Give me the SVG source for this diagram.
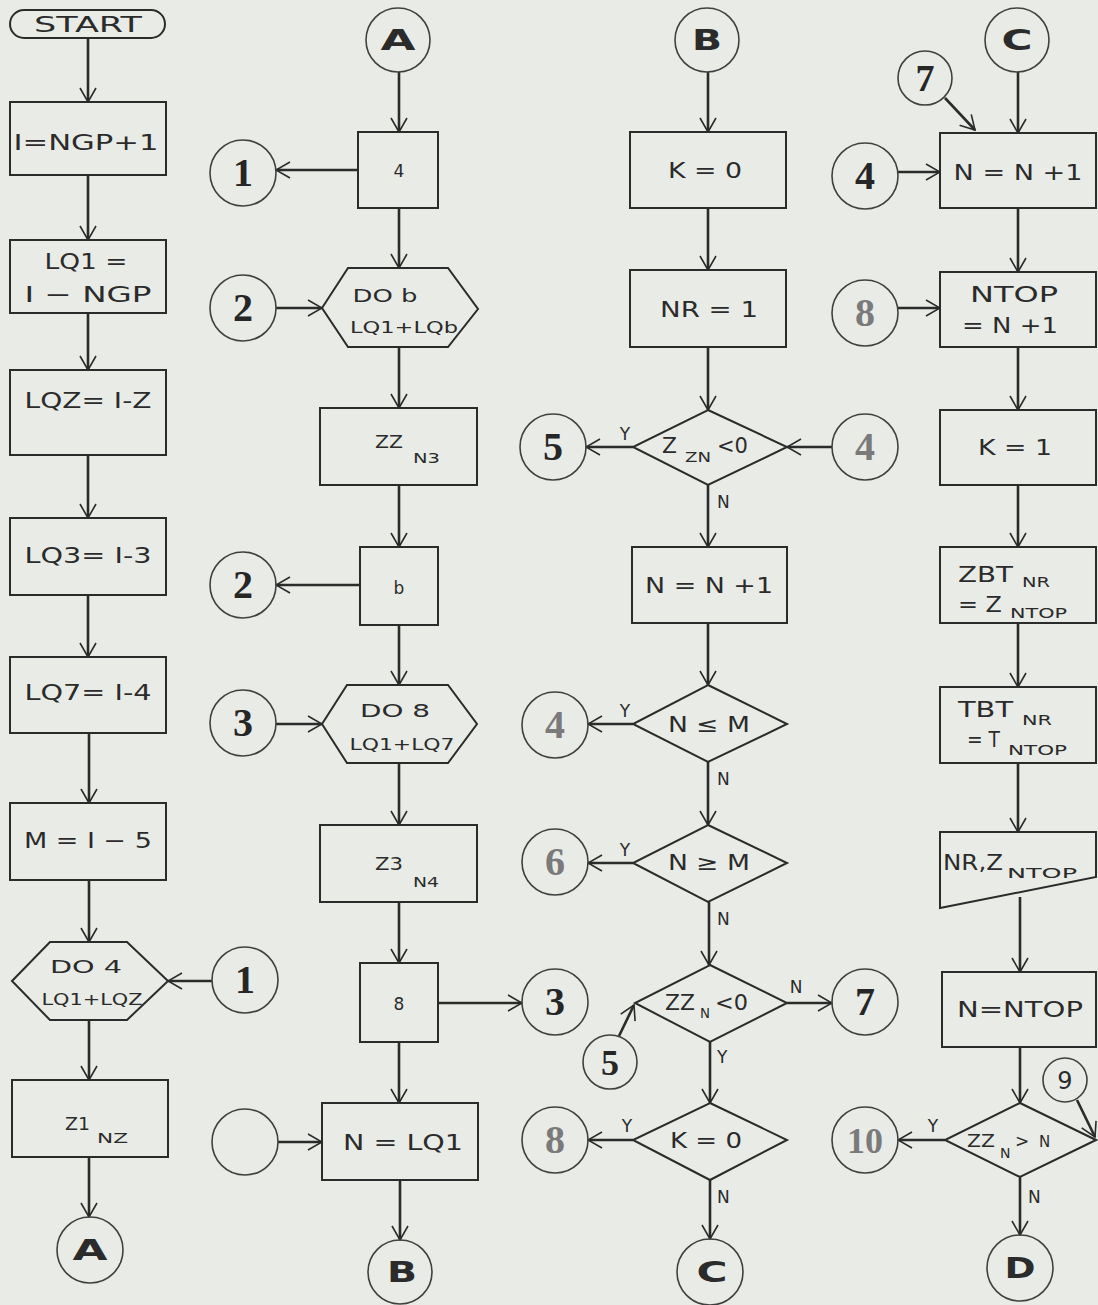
<svg xmlns="http://www.w3.org/2000/svg" width="1098" height="1305" viewBox="0 0 1098 1305">
  <defs>
    <marker id="ah" viewBox="0 0 16 18" refX="15" refY="9" markerWidth="16" markerHeight="18" markerUnits="userSpaceOnUse" orient="auto">
      <path d="M1,1 L15,9 L1,17" fill="none" stroke="#2b2b2b" stroke-width="1.6"/>
    </marker>
    <style>
      .shape { fill: none; stroke: #2b2b2b; stroke-width: 2; }
      .conn { fill: none; stroke: #404040; stroke-width: 1.6; }
      .flow { fill: none; stroke: #2b2b2b; stroke-width: 2.6; marker-end: url(#ah); }
      .lbl { font-family: "DejaVu Sans", sans-serif; font-size: 21px; fill: #2b2b2b; }
      .md { font-size: 17px; }
      .sm { font-size: 15px; }
      .sub { font-size: 14px; }
      .yn { font-family: "DejaVu Sans", sans-serif; font-size: 17px; fill: #2b2b2b; }
      .num { font-family: "Liberation Serif", serif; font-weight: bold; font-size: 40px; fill: #262626; text-anchor: middle; }
      .fade { fill: #7a7a7a; }
      .let { font-family: "DejaVu Sans", sans-serif; font-weight: bold; font-size: 28px; fill: #2b2b2b; text-anchor: middle; }
      .mid { text-anchor: middle; }
    </style>
  </defs>

  <rect width="1098" height="1305" fill="#e9ebe6"/>

  <!-- ===== connectors ===== -->
  <g id="connectors">
    <!-- column 1 -->
    <line class="flow" x1="88" y1="38" x2="88" y2="102"/>
    <line class="flow" x1="88" y1="175" x2="88" y2="240"/>
    <line class="flow" x1="88" y1="313" x2="88" y2="370"/>
    <line class="flow" x1="88" y1="455" x2="88" y2="518"/>
    <line class="flow" x1="88" y1="595" x2="88" y2="657"/>
    <line class="flow" x1="89" y1="733" x2="89" y2="803"/>
    <line class="flow" x1="89" y1="880" x2="89" y2="942"/>
    <line class="flow" x1="89" y1="1020" x2="89" y2="1080"/>
    <line class="flow" x1="89" y1="1157" x2="89" y2="1217"/>
    <line class="flow" x1="212" y1="981" x2="168" y2="981"/>

    <!-- column 2 -->
    <line class="flow" x1="399" y1="72" x2="399" y2="132"/>
    <line class="flow" x1="358" y1="170" x2="276" y2="170"/>
    <line class="flow" x1="399" y1="208" x2="399" y2="268"/>
    <line class="flow" x1="276" y1="308" x2="322" y2="308"/>
    <line class="flow" x1="399" y1="347" x2="399" y2="408"/>
    <line class="flow" x1="399" y1="485" x2="399" y2="547"/>
    <line class="flow" x1="360" y1="585" x2="276" y2="585"/>
    <line class="flow" x1="399" y1="625" x2="399" y2="685"/>
    <line class="flow" x1="276" y1="724" x2="322" y2="724"/>
    <line class="flow" x1="399" y1="763" x2="399" y2="825"/>
    <line class="flow" x1="399" y1="902" x2="399" y2="963"/>
    <line class="flow" x1="438" y1="1003" x2="522" y2="1003"/>
    <line class="flow" x1="399" y1="1042" x2="399" y2="1103"/>
    <line class="flow" x1="278" y1="1142" x2="322" y2="1142"/>
    <line class="flow" x1="400" y1="1180" x2="400" y2="1240"/>

    <!-- column 3 -->
    <line class="flow" x1="708" y1="72" x2="708" y2="132"/>
    <line class="flow" x1="708" y1="208" x2="708" y2="270"/>
    <line class="flow" x1="708" y1="347" x2="708" y2="410"/>
    <line class="flow" x1="633" y1="447" x2="586" y2="447"/>
    <line class="flow" x1="832" y1="447" x2="787" y2="447"/>
    <line class="flow" x1="708" y1="485" x2="708" y2="547"/>
    <line class="flow" x1="708" y1="623" x2="708" y2="685"/>
    <line class="flow" x1="633" y1="724" x2="588" y2="724"/>
    <line class="flow" x1="708" y1="762" x2="708" y2="825"/>
    <line class="flow" x1="633" y1="863" x2="588" y2="863"/>
    <line class="flow" x1="709" y1="902" x2="709" y2="965"/>
    <line class="flow" x1="787" y1="1003" x2="832" y2="1003"/>
    <line class="flow" x1="619" y1="1036" x2="634" y2="1005"/>
    <line class="flow" x1="710" y1="1042" x2="710" y2="1103"/>
    <line class="flow" x1="633" y1="1140" x2="588" y2="1140"/>
    <line class="flow" x1="710" y1="1180" x2="710" y2="1239"/>

    <!-- column 4 -->
    <line class="flow" x1="1018" y1="72" x2="1018" y2="133"/>
    <line class="flow" x1="945" y1="98" x2="975" y2="130"/>
    <line class="flow" x1="898" y1="172" x2="940" y2="172"/>
    <line class="flow" x1="1018" y1="208" x2="1018" y2="272"/>
    <line class="flow" x1="898" y1="308" x2="940" y2="308"/>
    <line class="flow" x1="1018" y1="347" x2="1018" y2="410"/>
    <line class="flow" x1="1018" y1="485" x2="1018" y2="547"/>
    <line class="flow" x1="1018" y1="623" x2="1018" y2="687"/>
    <line class="flow" x1="1018" y1="763" x2="1018" y2="832"/>
    <line class="flow" x1="1020" y1="897" x2="1020" y2="972"/>
    <line class="flow" x1="1020" y1="1047" x2="1020" y2="1103"/>
    <line class="flow" x1="945" y1="1140" x2="898" y2="1140"/>
    <line class="flow" x1="1077" y1="1100" x2="1095" y2="1137"/>
    <line class="flow" x1="1020" y1="1177" x2="1020" y2="1235"/>

    <!-- branch labels -->
    <text class="yn mid" x="625" y="440">Y</text>
    <text class="yn" x="717" y="508">N</text>
    <text class="yn mid" x="625" y="717">Y</text>
    <text class="yn" x="717" y="785">N</text>
    <text class="yn mid" x="625" y="856">Y</text>
    <text class="yn" x="717" y="925">N</text>
    <text class="yn mid" x="796" y="993">N</text>
    <text class="yn" x="717" y="1063">Y</text>
    <text class="yn mid" x="627" y="1132">Y</text>
    <text class="yn" x="717" y="1203">N</text>
    <text class="yn mid" x="933" y="1132">Y</text>
    <text class="yn" x="1028" y="1203">N</text>
  </g>

  <!-- ===== column 1 ===== -->
  <g id="start">
    <rect class="shape" x="10" y="10" width="155" height="28" rx="14"/>
    <text class="lbl mid" x="88" y="32" textLength="108" lengthAdjust="spacingAndGlyphs">START</text>
  </g>
  <g id="i-ngp">
    <rect class="shape" x="10" y="102" width="156" height="73"/>
    <text class="lbl mid" x="86" y="150" textLength="145" lengthAdjust="spacingAndGlyphs">I=NGP+1</text>
  </g>
  <g id="lq1">
    <rect class="shape" x="10" y="240" width="156" height="73"/>
    <text class="lbl mid" x="86" y="269" textLength="83" lengthAdjust="spacingAndGlyphs">LQ1 =</text>
    <text class="lbl mid" x="88" y="302" textLength="127" lengthAdjust="spacingAndGlyphs">I − NGP</text>
  </g>
  <g id="lq2">
    <rect class="shape" x="10" y="370" width="156" height="85"/>
    <text class="lbl mid" x="88" y="408" textLength="127" lengthAdjust="spacingAndGlyphs">LQZ= I-Z</text>
  </g>
  <g id="lq3">
    <rect class="shape" x="10" y="518" width="156" height="77"/>
    <text class="lbl mid" x="88" y="563" textLength="127" lengthAdjust="spacingAndGlyphs">LQ3= I-3</text>
  </g>
  <g id="lq7">
    <rect class="shape" x="10" y="657" width="156" height="76"/>
    <text class="lbl mid" x="88" y="700" textLength="127" lengthAdjust="spacingAndGlyphs">LQ7= I-4</text>
  </g>
  <g id="m">
    <rect class="shape" x="10" y="803" width="156" height="77"/>
    <text class="lbl mid" x="88" y="848" textLength="128" lengthAdjust="spacingAndGlyphs">M = I − 5</text>
  </g>
  <g id="do4">
    <polygon class="shape" points="12,981 50,942 127,942 168,981 127,1020 50,1020"/>
    <text class="lbl md mid" x="86" y="973" textLength="72" lengthAdjust="spacingAndGlyphs">DO 4</text>
    <text class="lbl sm mid" x="92" y="1005" textLength="101" lengthAdjust="spacingAndGlyphs">LQ1+LQZ</text>
  </g>
  <g id="z1">
    <rect class="shape" x="12" y="1080" width="156" height="77"/>
    <text class="lbl md" x="65" y="1130" textLength="25" lengthAdjust="spacingAndGlyphs">Z1</text>
    <text class="lbl sub" x="97" y="1143" textLength="31" lengthAdjust="spacingAndGlyphs">NZ</text>
  </g>
  <g id="out-a">
    <circle class="conn" cx="90" cy="1250" r="33"/>
    <text class="let" x="90" y="1260" textLength="35" lengthAdjust="spacingAndGlyphs">A</text>
  </g>

  <!-- ===== column 2 ===== -->
  <g id="in-a">
    <circle class="conn" cx="398" cy="40" r="32"/>
    <text class="let" x="398" y="50" textLength="35" lengthAdjust="spacingAndGlyphs">A</text>
  </g>
  <g id="end-4">
    <rect class="shape" x="358" y="132" width="80" height="76"/>
    <text class="lbl md mid" x="399" y="177">4</text>
  </g>
  <g id="c1-out">
    <circle class="conn" cx="243" cy="173" r="33"/>
    <text class="num" x="243" y="186">1</text>
  </g>
  <g id="do6">
    <polygon class="shape" points="322,308 348,268 448,268 478,309 448,347 348,347"/>
    <text class="lbl md mid" x="385" y="302" textLength="65" lengthAdjust="spacingAndGlyphs">DO b</text>
    <text class="lbl sm mid" x="404" y="333" textLength="108" lengthAdjust="spacingAndGlyphs">LQ1+LQb</text>
  </g>
  <g id="c2-in">
    <circle class="conn" cx="243" cy="308" r="33"/>
    <text class="num" x="243" y="321">2</text>
  </g>
  <g id="zz">
    <rect class="shape" x="320" y="408" width="157" height="77"/>
    <text class="lbl md" x="375" y="448" textLength="28" lengthAdjust="spacingAndGlyphs">ZZ</text>
    <text class="lbl sub" x="413" y="463" textLength="27" lengthAdjust="spacingAndGlyphs">N3</text>
  </g>
  <g id="end-6">
    <rect class="shape" x="360" y="547" width="78" height="78"/>
    <text class="lbl md mid" x="399" y="594">b</text>
  </g>
  <g id="c2-out">
    <circle class="conn" cx="243" cy="585" r="33"/>
    <text class="num" x="243" y="598">2</text>
  </g>
  <g id="do8">
    <polygon class="shape" points="322,724 347,685 448,685 477,724 448,763 347,763"/>
    <text class="lbl md mid" x="395" y="717" textLength="70" lengthAdjust="spacingAndGlyphs">DO 8</text>
    <text class="lbl sm mid" x="402" y="750" textLength="105" lengthAdjust="spacingAndGlyphs">LQ1+LQ7</text>
  </g>
  <g id="c3-in">
    <circle class="conn" cx="243" cy="723" r="33"/>
    <text class="num" x="243" y="736">3</text>
  </g>
  <g id="z3">
    <rect class="shape" x="320" y="825" width="157" height="77"/>
    <text class="lbl md" x="375" y="870" textLength="28" lengthAdjust="spacingAndGlyphs">Z3</text>
    <text class="lbl sub" x="413" y="887" textLength="26" lengthAdjust="spacingAndGlyphs">N4</text>
  </g>
  <g id="end-8">
    <rect class="shape" x="360" y="963" width="78" height="79"/>
    <text class="lbl md mid" x="399" y="1010">8</text>
  </g>
  <g id="c3-out">
    <circle class="conn" cx="555" cy="1002" r="33"/>
    <text class="num" x="555" y="1015">3</text>
  </g>
  <g id="c1-in">
    <circle class="conn" cx="245" cy="980" r="33"/>
    <text class="num" x="245" y="993">1</text>
  </g>
  <g id="n-lq1">
    <rect class="shape" x="322" y="1103" width="156" height="77"/>
    <text class="lbl mid" x="403" y="1150" textLength="120" lengthAdjust="spacingAndGlyphs">N = LQ1</text>
  </g>
  <g id="blank">
    <circle class="conn" cx="245" cy="1142" r="33"/>
  </g>
  <g id="out-b">
    <circle class="conn" cx="400" cy="1272" r="32"/>
    <text class="let" x="402" y="1282" textLength="30" lengthAdjust="spacingAndGlyphs">B</text>
  </g>

  <!-- ===== column 3 ===== -->
  <g id="in-b">
    <circle class="conn" cx="707" cy="40" r="32"/>
    <text class="let" x="707" y="50" textLength="30" lengthAdjust="spacingAndGlyphs">B</text>
  </g>
  <g id="k0">
    <rect class="shape" x="630" y="132" width="156" height="76"/>
    <text class="lbl mid" x="705" y="178" textLength="74" lengthAdjust="spacingAndGlyphs">K = 0</text>
  </g>
  <g id="nr1">
    <rect class="shape" x="630" y="270" width="156" height="77"/>
    <text class="lbl mid" x="709" y="317" textLength="98" lengthAdjust="spacingAndGlyphs">NR = 1</text>
  </g>
  <g id="test-z">
    <polygon class="shape" points="708,410 787,447 708,485 633,447"/>
    <text class="lbl" x="662" y="453" textLength="15" lengthAdjust="spacingAndGlyphs">Z</text>
    <text class="lbl sub" x="685" y="462" textLength="26" lengthAdjust="spacingAndGlyphs">ZN</text>
    <text class="lbl" x="717" y="453" textLength="31" lengthAdjust="spacingAndGlyphs">&lt;0</text>
  </g>
  <g id="c5-out">
    <circle class="conn" cx="553" cy="447" r="33"/>
    <text class="num" x="553" y="460">5</text>
  </g>
  <g id="c4-in-b">
    <circle class="conn" cx="865" cy="447" r="33"/>
    <text class="num fade" x="865" y="460">4</text>
  </g>
  <g id="inc-n">
    <rect class="shape" x="632" y="547" width="155" height="76"/>
    <text class="lbl mid" x="709" y="593" textLength="128" lengthAdjust="spacingAndGlyphs">N = N +1</text>
  </g>
  <g id="test-le">
    <polygon class="shape" points="708,685 787,724 708,762 633,724"/>
    <text class="lbl mid" x="709" y="732" textLength="82" lengthAdjust="spacingAndGlyphs">N ≤ M</text>
  </g>
  <g id="c4-out">
    <circle class="conn" cx="555" cy="725" r="33"/>
    <text class="num fade" x="555" y="738">4</text>
  </g>
  <g id="test-ge">
    <polygon class="shape" points="708,825 787,863 708,902 633,863"/>
    <text class="lbl mid" x="709" y="870" textLength="82" lengthAdjust="spacingAndGlyphs">N ≥ M</text>
  </g>
  <g id="c6-out">
    <circle class="conn" cx="555" cy="862" r="33"/>
    <text class="num fade" x="555" y="875">6</text>
  </g>
  <g id="test-zz">
    <polygon class="shape" points="710,965 787,1003 710,1042 635,1003"/>
    <text class="lbl" x="665" y="1010" textLength="30" lengthAdjust="spacingAndGlyphs">ZZ</text>
    <text class="lbl sub" x="700" y="1018" textLength="10" lengthAdjust="spacingAndGlyphs">N</text>
    <text class="lbl" x="715" y="1010" textLength="33" lengthAdjust="spacingAndGlyphs">&lt;0</text>
  </g>
  <g id="c7-out">
    <circle class="conn" cx="865" cy="1002" r="33"/>
    <text class="num" x="865" y="1015">7</text>
  </g>
  <g id="c5-in">
    <circle class="conn" cx="610" cy="1062" r="27"/>
    <text class="num" x="610" y="1075" style="font-size:36px">5</text>
  </g>
  <g id="test-k">
    <polygon class="shape" points="710,1103 787,1140 710,1180 633,1140"/>
    <text class="lbl mid" x="706" y="1148" textLength="72" lengthAdjust="spacingAndGlyphs">K = 0</text>
  </g>
  <g id="c8-out">
    <circle class="conn" cx="555" cy="1140" r="33"/>
    <text class="num fade" x="555" y="1153">8</text>
  </g>
  <g id="out-c">
    <circle class="conn" cx="710" cy="1272" r="33"/>
    <text class="let" x="712" y="1282" textLength="31" lengthAdjust="spacingAndGlyphs">C</text>
  </g>

  <!-- ===== column 4 ===== -->
  <g id="in-c">
    <circle class="conn" cx="1017" cy="40" r="32"/>
    <text class="let" x="1017" y="50" textLength="31" lengthAdjust="spacingAndGlyphs">C</text>
  </g>
  <g id="c7-in">
    <circle class="conn" cx="925" cy="78" r="27"/>
    <text class="num" x="925" y="91" style="font-size:38px">7</text>
  </g>
  <g id="inc-n2">
    <rect class="shape" x="940" y="133" width="156" height="75"/>
    <text class="lbl mid" x="1018" y="180" textLength="129" lengthAdjust="spacingAndGlyphs">N = N +1</text>
  </g>
  <g id="c4-in">
    <circle class="conn" cx="865" cy="176" r="33"/>
    <text class="num" x="865" y="189">4</text>
  </g>
  <g id="ntop">
    <rect class="shape" x="940" y="272" width="156" height="75"/>
    <text class="lbl mid" x="1014" y="302" textLength="88" lengthAdjust="spacingAndGlyphs">NTOP</text>
    <text class="lbl mid" x="1010" y="333" textLength="96" lengthAdjust="spacingAndGlyphs">= N +1</text>
  </g>
  <g id="c8-in">
    <circle class="conn" cx="865" cy="313" r="33"/>
    <text class="num fade" x="865" y="326">8</text>
  </g>
  <g id="k1">
    <rect class="shape" x="940" y="410" width="156" height="75"/>
    <text class="lbl mid" x="1015" y="455" textLength="74" lengthAdjust="spacingAndGlyphs">K = 1</text>
  </g>
  <g id="zbt">
    <rect class="shape" x="940" y="547" width="156" height="76"/>
    <text class="lbl" x="958" y="582" textLength="55" lengthAdjust="spacingAndGlyphs">ZBT</text>
    <text class="lbl sub" x="1022" y="587" textLength="28" lengthAdjust="spacingAndGlyphs">NR</text>
    <text class="lbl" x="958" y="612" textLength="44" lengthAdjust="spacingAndGlyphs">= Z</text>
    <text class="lbl sub" x="1010" y="618" textLength="57" lengthAdjust="spacingAndGlyphs">NTOP</text>
  </g>
  <g id="tbt">
    <rect class="shape" x="940" y="687" width="156" height="76"/>
    <text class="lbl" x="958" y="717" textLength="55" lengthAdjust="spacingAndGlyphs">TBT</text>
    <text class="lbl sub" x="1022" y="725" textLength="30" lengthAdjust="spacingAndGlyphs">NR</text>
    <text class="lbl" x="967" y="747" textLength="33" lengthAdjust="spacingAndGlyphs">= T</text>
    <text class="lbl sub" x="1008" y="755" textLength="59" lengthAdjust="spacingAndGlyphs">NTOP</text>
  </g>
  <g id="print">
    <polygon class="shape" points="940,832 1096,832 1096,877 940,908"/>
    <text class="lbl" x="943" y="870" textLength="60" lengthAdjust="spacingAndGlyphs">NR,Z</text>
    <text class="lbl sub" x="1007" y="878" textLength="70" lengthAdjust="spacingAndGlyphs">NTOP</text>
  </g>
  <g id="n-ntop">
    <rect class="shape" x="942" y="972" width="154" height="75"/>
    <text class="lbl mid" x="1020" y="1017" textLength="126" lengthAdjust="spacingAndGlyphs">N=NTOP</text>
  </g>
  <g id="test-gt">
    <polygon class="shape" points="1020,1103 1096,1140 1020,1177 945,1140"/>
    <text class="lbl md" x="967" y="1147" textLength="28" lengthAdjust="spacingAndGlyphs">ZZ</text>
    <text class="lbl sub" x="1000" y="1158">N</text>
    <text class="lbl md" x="1015" y="1147">&gt;</text>
    <text class="lbl sm" x="1039" y="1147">N</text>
  </g>
  <g id="c9-in">
    <circle class="conn" cx="1065" cy="1080" r="22"/>
    <text class="lbl mid" x="1065" y="1089" style="font-size:24px">9</text>
  </g>
  <g id="c10-out">
    <circle class="conn" cx="865" cy="1140" r="33"/>
    <text class="num fade" x="865" y="1153" style="font-size:36px">10</text>
  </g>
  <g id="out-d">
    <circle class="conn" cx="1020" cy="1268" r="33"/>
    <text class="let" x="1020" y="1278" textLength="31" lengthAdjust="spacingAndGlyphs">D</text>
  </g>
</svg>
